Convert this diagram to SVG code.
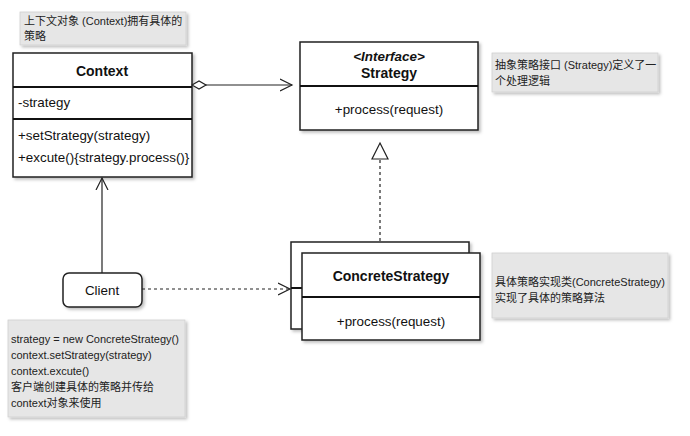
<svg xmlns="http://www.w3.org/2000/svg" width="690" height="436" viewBox="0 0 690 436">
<style>
.box{fill:#fff;stroke:#222;stroke-width:1.5}
.sep{stroke:#111;stroke-width:2}
.note{fill:#e6e6e6;stroke:#d0d0d0;stroke-width:0.8}
.t{font-family:"Liberation Sans","Noto Sans CJK SC",Arial,sans-serif;font-size:13.4px;fill:#111}
.b{font-weight:bold;font-size:14px}
.n{font-family:"Liberation Sans","Noto Sans CJK SC",Arial,sans-serif;font-size:11px;fill:#222}
.line{fill:none;stroke:#222;stroke-width:1.2}
.dash{fill:none;stroke:#222;stroke-width:1.2;stroke-dasharray:3,3}
</style>
<defs>
<filter id="sh" x="-10%" y="-10%" width="130%" height="130%">
<feDropShadow dx="2" dy="2" stdDeviation="1.5" flood-color="#000" flood-opacity="0.25"/>
</filter>
<marker id="open" markerWidth="14" markerHeight="14" refX="12" refY="7" orient="auto" markerUnits="userSpaceOnUse">
<path d="M0,1 L12,7 L0,13" fill="none" stroke="#222" stroke-width="1.2"/>
</marker>
<marker id="diam" markerWidth="18" markerHeight="10" refX="1" refY="5" orient="auto" markerUnits="userSpaceOnUse">
<path d="M1,5 L8,1 L15,5 L8,9 Z" fill="#fff" stroke="#222" stroke-width="1.2"/>
</marker>
</defs>
<rect width="690" height="436" fill="#fff"/>

<g id="note-context">
<rect class="note" x="20" y="12" width="166" height="33" filter="url(#sh)"/>
<text class="n" x="24" y="25">上下文对象 (Context)拥有具体的</text>
<text class="n" x="24" y="40">策略</text>
</g>

<g id="context">
<rect class="box" x="13" y="53" width="179" height="124" filter="url(#sh)"/>
<line class="sep" x1="13" y1="87" x2="192" y2="87"/>
<line class="sep" x1="13" y1="119" x2="192" y2="119"/>
<text class="t b" x="102" y="76" text-anchor="middle">Context</text>
<text class="t" x="18" y="107">-strategy</text>
<text class="t" x="18" y="140">+setStrategy(strategy)</text>
<text class="t" x="18" y="162">+excute(){strategy.process()}</text>
</g>

<g id="strategy">
<rect class="box" x="300" y="42" width="178" height="88" filter="url(#sh)"/>
<line class="sep" x1="300" y1="86" x2="478" y2="86"/>
<text class="t" x="389" y="61" text-anchor="middle" font-style="italic" font-weight="bold">&lt;Interface&gt;</text>
<text class="t b" x="389" y="78" text-anchor="middle">Strategy</text>
<text class="t" x="389" y="114" text-anchor="middle">+process(request)</text>
</g>

<g id="note-strategy">
<rect class="note" x="492" y="53" width="166" height="39" filter="url(#sh)"/>
<text class="n" x="495" y="69">抽象策略接口 (Strategy)定义了一</text>
<text class="n" x="495" y="85">个处理逻辑</text>
</g>

<g id="concrete">
<rect class="box" x="291" y="242" width="178" height="87" filter="url(#sh)"/>
<line class="sep" x1="291" y1="288" x2="302" y2="288"/>
<rect class="box" x="302" y="253" width="178" height="87" filter="url(#sh)"/>
<line class="sep" x1="302" y1="297" x2="480" y2="297"/>
<text class="t b" x="391" y="281" text-anchor="middle">ConcreteStrategy</text>
<text class="t" x="391" y="326" text-anchor="middle">+process(request)</text>
</g>

<g id="note-concrete">
<rect class="note" x="492" y="253" width="176" height="65" filter="url(#sh)"/>
<text class="n" x="495" y="286">具体策略实现类(ConcreteStrategy)</text>
<text class="n" x="495" y="302">实现了具体的策略算法</text>
</g>

<g id="client">
<rect class="box" x="63" y="273" width="79" height="34" rx="6" ry="6" filter="url(#sh)"/>
<text class="t" x="102" y="295" text-anchor="middle">Client</text>
</g>

<g id="note-client">
<rect class="note" x="8" y="320" width="177" height="97" filter="url(#sh)"/>
<text class="n" x="11" y="343">strategy = new ConcreteStrategy()</text>
<text class="n" x="11" y="359">context.setStrategy(strategy)</text>
<text class="n" x="11" y="375">context.excute()</text>
<text class="n" x="11" y="391">客户端创建具体的策略并传给</text>
<text class="n" x="11" y="407">context对象来使用</text>
</g>

<g id="connectors">
<line class="line" x1="192" y1="85" x2="292" y2="85" marker-start="url(#diam)" marker-end="url(#open)"/>
<line class="dash" x1="380" y1="241" x2="380" y2="159"/>
<path d="M380,143 L388,159 L372,159 Z" fill="#fff" stroke="#222" stroke-width="1.2"/>
<line class="line" x1="102" y1="273" x2="102" y2="178" marker-end="url(#open)"/>
<line class="dash" x1="142" y1="289" x2="290" y2="289" marker-end="url(#open)"/>
</g>
</svg>
